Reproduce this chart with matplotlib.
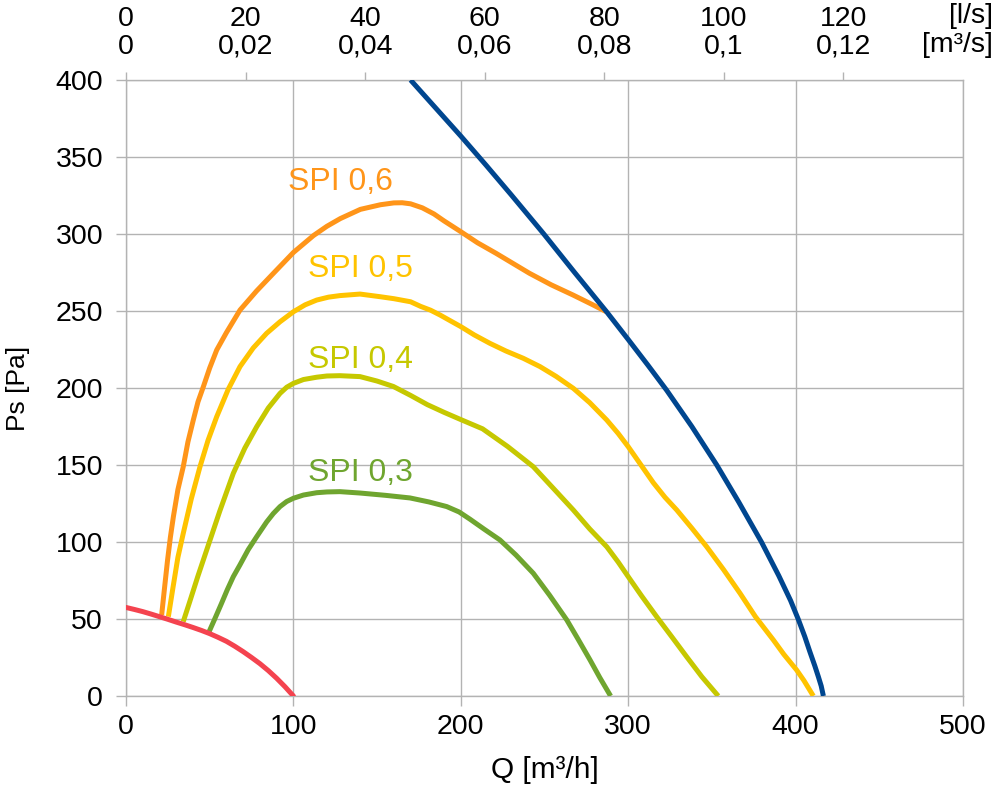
import matplotlib.pyplot as plt

plt.rcParams['font.family'] = ['Liberation Sans', 'DejaVu Sans']

# system curve (red)
sys_q = [0, 5, 10, 15, 20, 25, 30, 35, 40, 45, 50, 55, 60, 65, 70, 75, 80, 85, 90, 95, 100]
sys_p = [57.5, 56.2, 54.8, 53.2, 51.5, 49.8, 48, 46.3, 44.5, 42.6, 40.5, 38.1, 35.5, 32.3, 28.8,
         25, 21, 16.5, 11.5, 6, 0]

# max fan curve (blue)
max_q = [170, 185, 200, 215, 230, 249.3, 268, 287.1, 300, 312, 323, 338, 352.9, 366,
         379.7, 390, 397, 401.6, 405.5, 408.6, 411.5, 413.6, 415.3, 416.6]
max_p = [400, 381.8, 363.6, 344.8, 325.6, 300.4, 275, 249.5, 231.5, 214.5, 198.5, 175, 150, 126,
         99.8, 78, 62, 49.8, 38.5, 28.5, 19.5, 12.5, 6.5, 0]

# SPI curves
spi6_q = [21.3, 23, 24.8, 26.5, 28.3, 31, 34.2, 37, 40.2, 43, 46.2, 50, 54.2, 60, 68.1, 78, 88,
          100, 112, 120, 128, 140, 152, 160, 165, 170, 177, 184, 190, 200, 210, 221, 231, 241,
          254, 267, 278, 287]
spi6_p = [52.6, 70, 88, 103, 116.4, 134, 148.9, 165, 179.2, 191, 200.8, 213, 224.7, 236, 250.6,
          263, 274.4, 288, 299, 305, 310, 316, 319, 320.2, 320.3, 319.6, 317, 313, 308.5, 301.5,
          294.3, 287.5, 281, 274.5, 267, 260.4, 254.5, 249.5]

spi5_q = [25.3, 28, 31, 34.2, 39, 44.2, 49, 54.2, 61, 68.1, 76, 84, 92, 100, 107, 113.9, 121,
          127.8, 139.8, 151.7, 160, 170, 176, 182, 187.6, 194, 200.1, 208, 217.4, 227, 237.3,
          247.3, 257, 267.2, 277, 287.2, 294, 300, 307, 315, 322, 329, 338, 346.9, 357, 366.8,
          376, 386.7, 393, 400.6, 405, 410.6]
spi5_p = [51.5, 70, 90, 105.6, 128, 148.9, 166, 181.4, 199, 213.9, 226, 235.5, 243, 249.5, 254,
          257.1, 259, 260, 261, 259.3, 258, 256, 253, 250.5, 247.4, 243.5, 239.8, 234.5, 229,
          224, 219.3, 213.9, 207.5, 199.8, 190.5, 179.2, 170.5, 161.9, 151, 138.5, 129, 120.8,
          109, 96.9, 82, 66.7, 51.5, 36.4, 27, 16.9, 10, 0]

spi4_q = [34.2, 38, 43, 48.2, 56, 64.1, 71, 78.1, 85, 92, 96, 100, 106, 113.9, 120, 127.8,
          139.8, 150, 159.7, 170, 180, 190, 200, 213, 228, 243.3, 256, 267.2, 277, 287.2,
          294, 300, 308, 317, 326, 334.9, 344, 353.8]
spi4_p = [48.3, 61, 78, 94.8, 120, 144.6, 161, 174.9, 187, 196.5, 200.5, 203, 205.5, 207, 207.8,
          208, 207.4, 204.5, 201, 195.2, 189.2, 184.2, 179.5, 173.5, 162, 148.9, 134, 120.8, 108.5,
          96.9, 87, 77.5, 65, 51.5, 38.5, 25.5, 12.5, 0]

spi3_q = [49.2, 53, 57, 60.5, 64.1, 68, 73, 78.1, 84, 88, 92, 96, 100, 106, 113.9, 120, 127.8,
          139.8, 155, 169.7, 181, 191.6, 199, 205.5, 214, 223.4, 233, 243.3, 253, 263.3, 270,
          277.2, 283, 289.5]
spi3_p = [40.7, 50, 60, 69, 77.5, 85, 95, 103.5, 113, 118.5, 123, 126.3, 128.4, 130.5, 132,
          132.5, 132.7, 131.8, 130.3, 128.6, 126, 123, 119.5, 114.8, 108.3, 101.3, 91.5, 79.7,
          65.5, 49.4, 37, 23.4, 12, 0]

spi_labels = ["SPI 0,6", "SPI 0,5", "SPI 0,4", "SPI 0,3"]
label_pos = [(97, 334), (109, 277), (109, 218), (109, 144.5)]

top_ls = [0, 20, 40, 60, 80, 100, 120]
top_m3s = ["0", "0,02", "0,04", "0,06", "0,08", "0,1", "0,12"]

c_spi = ["#ff9519", "#ffc300", "#c6c800", "#6fa52f"]
c_sys = "#f4434f"
c_max = "#00468f"
grid_c = "#b3b3b3"

fig = plt.figure(figsize=(9.95, 7.88), dpi=100)
ax = fig.add_axes([126/995, 92/788, 837/995, 616/788])

curves = [(spi6_q, spi6_p), (spi5_q, spi5_p), (spi4_q, spi4_p), (spi3_q, spi3_p)]
for (q, p), c in zip(curves, c_spi):
    ax.plot(q, p, color=c, lw=3.6, solid_capstyle='butt', solid_joinstyle='round', zorder=3)
ax.plot(sys_q, sys_p, color=c_sys, lw=3.6, solid_capstyle='round', solid_joinstyle='round', zorder=4)
ax.plot(max_q, max_p, color=c_max, lw=3.6, solid_capstyle='butt', solid_joinstyle='round', zorder=4)

for txt, (x, y), c in zip(spi_labels, label_pos, c_spi):
    ax.text(x, y, txt, color=c, fontsize=23, ha='left', va='center', zorder=5)

ax.set_xlim(0, 500)
ax.set_ylim(0, 400)
ax.set_xticks(range(0, 501, 100))
ax.set_yticks(range(0, 401, 50))
ax.grid(True, color=grid_c, lw=1.0)
ax.set_axisbelow(True)
for s in ax.spines.values():
    s.set_color(grid_c)
    s.set_linewidth(1.0)
ax.tick_params(axis='both', labelsize=20.5, color=grid_c, length=7, width=1)
ax.tick_params(axis='x', pad=6)
ax.tick_params(axis='y', pad=9.5)

ax.set_xlabel("Q [m³/h]", fontsize=21.5, va='center')
ax.xaxis.set_label_coords(0.5006, -0.120)
ax.set_ylabel("Ps [Pa]", fontsize=19, va='center')
ax.yaxis.set_label_coords(-0.129, 0.5)

# top axis: l/s and m3/s
ax2 = ax.twiny()
ax2.set_xlim(0, 140)
ax2.set_xticks(top_ls)
ax2.set_xticklabels([f"{a}\n{b}" for a, b in zip(top_ls, top_m3s)], linespacing=1.1)
ax2.tick_params(axis='x', labelsize=20.5, color=grid_c, length=6, width=1, pad=8.5)
for s in ax2.spines.values():
    s.set_visible(False)

fig.text(993/995, 1 - 16/788, "[l/s]", fontsize=20.5, ha='right', va='center')
fig.text(993/995, 1 - 45/788, "[m³/s]", fontsize=20.5, ha='right', va='center')

fig.savefig("out.png", dpi=100, facecolor='white')
